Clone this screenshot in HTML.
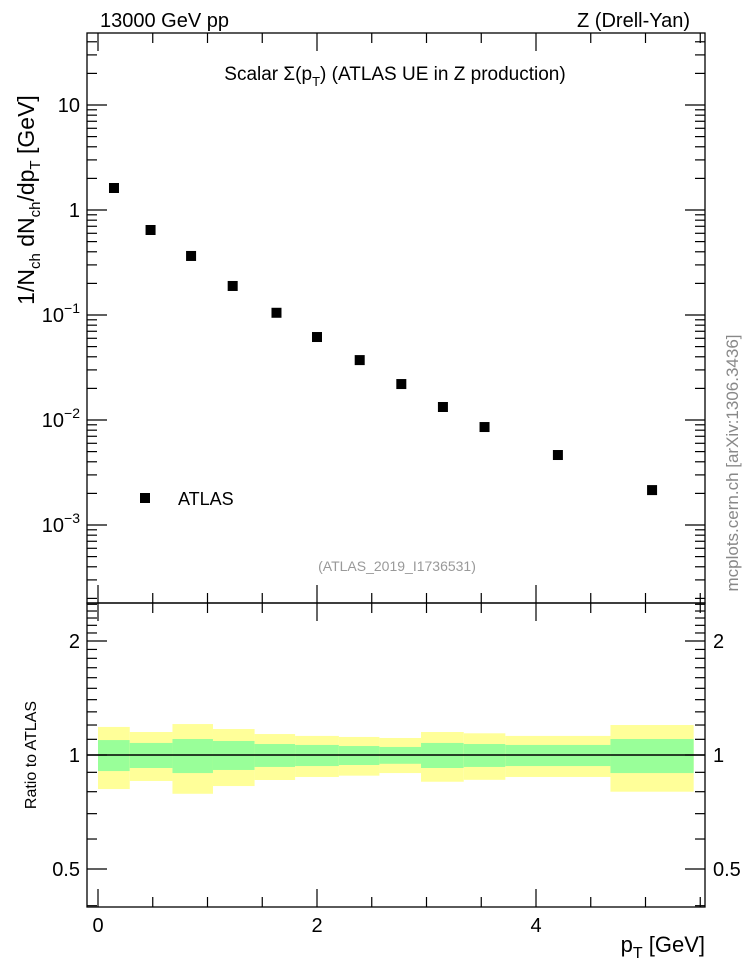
<!DOCTYPE html>
<html><head><meta charset="utf-8"><style>
body{margin:0;background:#fff;}
svg{display:block;font-family:"Liberation Sans",sans-serif;}
</style></head><body>
<svg id="c" width="746" height="972" xmlns="http://www.w3.org/2000/svg"></svg>
<script>
const xs=[0.146,0.48,0.85,1.23,1.63,2.0,2.39,2.77,3.15,3.53,4.2,5.06];
const ys=[1.62,0.645,0.365,0.189,0.105,0.0617,0.0372,0.022,0.0133,0.00857,0.00464,0.00215];
const binEdges=[0,0.29,0.68,1.05,1.43,1.8,2.2,2.57,2.95,3.34,3.72,4.68,5.44];
const yelHi=[1.186,1.15,1.207,1.171,1.136,1.123,1.116,1.109,1.15,1.141,1.123,1.2];
const grnHi=[1.095,1.076,1.102,1.089,1.069,1.063,1.056,1.05,1.076,1.069,1.063,1.102];
const grnLo=[0.907,0.924,0.896,0.913,0.93,0.935,0.941,0.948,0.924,0.93,0.935,0.896];
const yelLo=[0.813,0.854,0.79,0.828,0.859,0.875,0.882,0.896,0.85,0.86,0.875,0.8];
const xTicks=[0,2,4];
const yTickLabels=["10","1","10⁻¹","10⁻²","10⁻³"];
const rTicks=[0.5,1,2];

const svg=document.getElementById('c');
const NS='http://www.w3.org/2000/svg';
function mk(tag,at,parent){const e=document.createElementNS(NS,tag);for(const k in at)e.setAttribute(k,at[k]);(parent||svg).appendChild(e);return e;}
const L=87,R=705,T=33,M=603,B=907;
const X=v=>98+v*109.5;
const Y=v=>210-Math.log10(v)*105;
const RY=v=>755-Math.log2(v)*114;

binEdges.slice(0,-1).forEach((e,i)=>{
  const x0=X(e),x1=X(binEdges[i+1]);
  const y=mk('rect',{x:x0,y:RY(yelHi[i]),width:x1-x0,height:RY(yelLo[i])-RY(yelHi[i]),fill:'#ffff99'});
  
  
  const g=mk('rect',{x:x0,y:RY(grnHi[i]),width:x1-x0,height:RY(grnLo[i])-RY(grnHi[i]),fill:'#99ff99'});
  
  
});
const ref=mk('line',{x1:L,x2:R,y1:RY(1),y2:RY(1),stroke:'#000','stroke-width':1.5});



[[T,M],[M,B]].forEach(([a,b],k)=>{
  const f=mk('rect',{x:L,y:a,width:R-L,height:b-a,fill:'none',stroke:'#000','stroke-width':1.3});
  
  
});
function tick(x1,y1,x2,y2){mk('line',{x1,y1,x2,y2,stroke:'#000','stroke-width':1.2});}
for(let v=0;v<=5.5;v+=0.5){
  const x=X(v),maj=Math.abs(v-Math.round(v/2)*2)<1e-6;const l=maj?18:10;
  [[T,1],[M,-1],[M,1],[B,-1]].forEach(([y,d])=>tick(x,y,x,y+d*l));
}
xTicks.forEach(v=>{const t=mk('text',{x:X(v),y:932,'font-size':20,'text-anchor':'middle'});t.textContent=v;
});
for(let d=-4;d<=1;d++)for(let m=1;m<=9;m++){
  const v=m*Math.pow(10,d);const y=Y(v);if(y<T||y>M)continue;const l=m==1?20:10;
  tick(L,y,L+l,y);tick(R,y,R-l,y);
}
[10,1,0.1,0.01,0.001].forEach((v,i)=>{
  const lab=yTickLabels[i];const t=mk('text',{x:80,y:Y(v)+7,'font-size':20,'text-anchor':'end'});
  if(lab.length>2){t.textContent='10';const s=mk('tspan',{dy:-9,'font-size':14},t);s.textContent=lab.slice(2).replace('⁻','−').replace('¹','1').replace('²','2').replace('³','3');}
  else t.textContent=lab;
  
});
for(let v=0.4;v<=2.6;v+=0.1){
  const vv=Math.round(v*10)/10;const y=RY(vv);if(y<M||y>B)continue;
  const maj=rTicks.includes(vv);const l=maj?20:10;tick(L,y,L+l,y);tick(R,y,R-l,y);
}
rTicks.forEach(v=>{[[80,'end'],[713,'start']].forEach(([x,a])=>{const t=mk('text',{x,y:RY(v)+7,'font-size':20,'text-anchor':a});t.textContent=v;
});});

xs.forEach((x,i)=>{const r=mk('rect',{x:X(x)-5,y:Y(ys[i])-5,width:10,height:10,fill:'#000'});
});

function txt(s,at,name){const t=mk('text',at);t.innerHTML=s;return t;}
txt('13000 GeV pp',{x:100,y:27,'font-size':20},'energy-label');
txt('Z (Drell-Yan)',{x:690,y:27,'font-size':20,'text-anchor':'end'},'process-label');
txt('Scalar Σ(p<tspan dy="6" font-size="13">T</tspan><tspan dy="-6">) (ATLAS UE in Z production)</tspan>',{x:395,y:80,'font-size':19,'text-anchor':'middle'},'plot-title');
mk('rect',{x:140,y:493,width:10,height:10,fill:'#000'});
txt('ATLAS',{x:178,y:505,'font-size':18},'legend-entry');
txt('(ATLAS_2019_I1736531)',{x:397,y:571,'font-size':14,fill:'#999','text-anchor':'middle'},'analysis-id');
txt('mcplots.cern.ch [arXiv:1306.3436]',{x:0,y:0,'font-size':17,fill:'#888','text-anchor':'middle',transform:'translate(738,463) rotate(-90)'},'watermark');
txt('1/N<tspan dy="6" font-size="15">ch</tspan><tspan dy="-6"> dN</tspan><tspan dy="6" font-size="15">ch</tspan><tspan dy="-6">/dp</tspan><tspan dy="6" font-size="15">T</tspan><tspan dy="-6"> [GeV]</tspan>',{x:0,y:0,'font-size':23,'text-anchor':'middle',transform:'translate(34,200) rotate(-90)'},'y-axis-title');
txt('Ratio to ATLAS',{x:0,y:0,'font-size':16,'text-anchor':'middle',transform:'translate(36,755) rotate(-90)'},'ratio-axis-title');
txt('p<tspan dy="6" font-size="16">T</tspan><tspan dy="-6"> [GeV]</tspan>',{x:705,y:952,'font-size':22,'text-anchor':'end'},'x-axis-title');
</script>
</body></html>
